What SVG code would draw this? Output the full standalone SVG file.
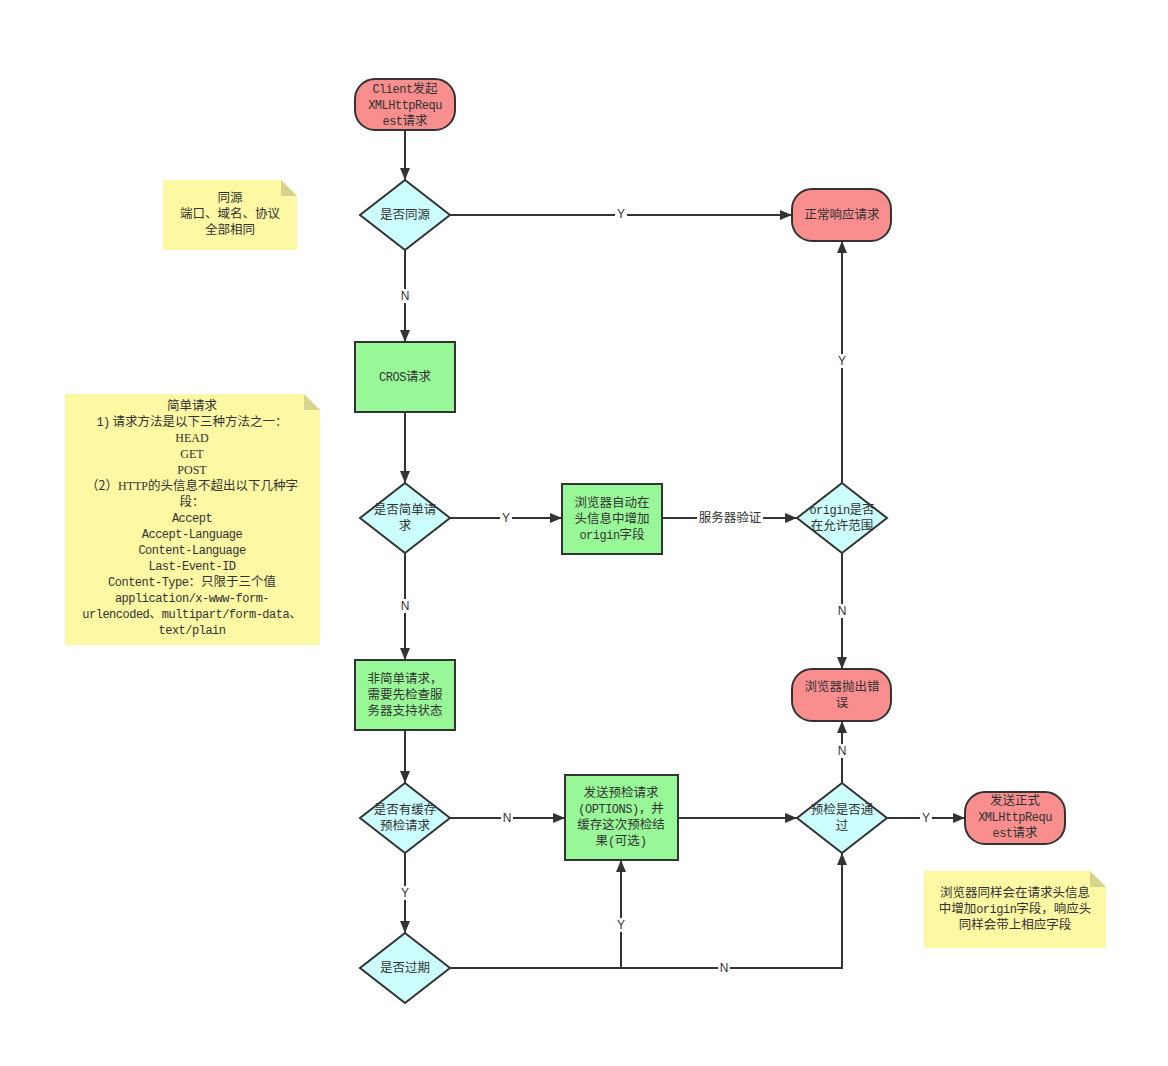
<svg xmlns="http://www.w3.org/2000/svg" width="1168" height="1066" viewBox="0 0 1168 1066">
<style>
.t{font-family:"Noto Sans CJK SC","Liberation Sans",sans-serif;font-size:12.5px;fill:#333;text-anchor:middle}
.m{font-family:"Liberation Mono","Noto Sans CJK SC",monospace;font-size:12px;letter-spacing:-0.5px}
.hs{font-family:"Liberation Serif",serif;font-size:12px}
.lbl{font-family:"Liberation Sans",sans-serif;font-size:12px;fill:#333;text-anchor:middle}
.term{fill:#f88e8e;stroke:#333;stroke-width:2}
.proc{fill:#98f898;stroke:#333;stroke-width:2}
.dec{fill:#ccfefe;stroke:#333;stroke-width:2}
.note{fill:#fcf8a3}
.fold{fill:#d6d38a}
.edge{fill:none;stroke:#333;stroke-width:2}
.bg{fill:#fff}
</style>
<defs>
<marker id="arr" viewBox="0 0 12 10" refX="12" refY="5" markerWidth="12" markerHeight="10" markerUnits="userSpaceOnUse" orient="auto">
<path d="M0,0 L12,5 L0,10 Z" fill="#333"/>
</marker>
</defs>
<rect width="1168" height="1066" fill="#fff"/>

<g id="connectors">
<path class="edge" d="M405,130 V180" marker-end="url(#arr)"/>
<path class="edge" d="M450,215 H792" marker-end="url(#arr)"/>
<path class="edge" d="M405,250 V342" marker-end="url(#arr)"/>
<path class="edge" d="M405,412 V483" marker-end="url(#arr)"/>
<path class="edge" d="M450,518 H562" marker-end="url(#arr)"/>
<path class="edge" d="M662,518 H797" marker-end="url(#arr)"/>
<path class="edge" d="M842,483 V241" marker-end="url(#arr)"/>
<path class="edge" d="M842,553 V669" marker-end="url(#arr)"/>
<path class="edge" d="M405,553 V660" marker-end="url(#arr)"/>
<path class="edge" d="M405,730 V783" marker-end="url(#arr)"/>
<path class="edge" d="M450,818 H565" marker-end="url(#arr)"/>
<path class="edge" d="M678,818 H797" marker-end="url(#arr)"/>
<path class="edge" d="M842,783 V721" marker-end="url(#arr)"/>
<path class="edge" d="M887,818 H965" marker-end="url(#arr)"/>
<path class="edge" d="M405,853 V933" marker-end="url(#arr)"/>
<path class="edge" d="M450,968 H621 V860" marker-end="url(#arr)"/>
<path class="edge" d="M450,968 H842 V853" marker-end="url(#arr)"/>
<rect class="bg" x="615" y="207" width="12" height="14"/><text class="lbl" x="621" y="218">Y</text>
<rect class="bg" x="399" y="289" width="12" height="14"/><text class="lbl" x="405" y="300">N</text>
<rect class="bg" x="500" y="511" width="12" height="14"/><text class="lbl" x="506" y="522">Y</text>
<rect class="bg" x="697" y="510" width="66" height="16"/><text class="t" x="730" y="522">服务器验证</text>
<rect class="bg" x="836" y="354" width="12" height="14"/><text class="lbl" x="842" y="365">Y</text>
<rect class="bg" x="836" y="604" width="12" height="14"/><text class="lbl" x="842" y="615">N</text>
<rect class="bg" x="399" y="599" width="12" height="14"/><text class="lbl" x="405" y="610">N</text>
<rect class="bg" x="501" y="811" width="12" height="14"/><text class="lbl" x="507" y="822">N</text>
<rect class="bg" x="836" y="744" width="12" height="14"/><text class="lbl" x="842" y="755">N</text>
<rect class="bg" x="920" y="811" width="12" height="14"/><text class="lbl" x="926" y="822">Y</text>
<rect class="bg" x="399" y="886" width="12" height="14"/><text class="lbl" x="405" y="897">Y</text>
<rect class="bg" x="615" y="918" width="12" height="14"/><text class="lbl" x="621" y="929">Y</text>
<rect class="bg" x="718" y="961" width="12" height="14"/><text class="lbl" x="724" y="972">N</text>
</g>

<g id="start">
<rect class="term" x="355" y="79" width="100" height="51" rx="20"/>
<text class="t" x="405" y="93"><tspan class="m">Client</tspan>发起</text>
<text class="t m" x="405" y="109">XMLHttpRequ</text>
<text class="t" x="405" y="125"><tspan class="m">est</tspan>请求</text>
</g>

<g id="same-origin">
<polygon class="dec" points="405,180 450,215 405,250 360,215"/>
<text class="t" x="405" y="219">是否同源</text>
</g>

<g id="normal-response">
<rect class="term" x="792" y="189" width="99" height="52" rx="20"/>
<text class="t" x="842" y="219">正常响应请求</text>
</g>

<g id="cros">
<rect class="proc" x="355" y="342" width="100" height="70"/>
<text class="t" x="405" y="381"><tspan class="m">CROS</tspan>请求</text>
</g>

<g id="simple">
<polygon class="dec" points="405,483 450,518 405,553 360,518"/>
<text class="t" x="405" y="514">是否简单请</text>
<text class="t" x="405" y="530">求</text>
</g>

<g id="add-origin">
<rect class="proc" x="562" y="484" width="100" height="70"/>
<text class="t" x="612" y="507">浏览器自动在</text>
<text class="t" x="612" y="523">头信息中增加</text>
<text class="t" x="612" y="539"><tspan class="m">origin</tspan>字段</text>
</g>

<g id="origin-allowed">
<polygon class="dec" points="842,483 887,518 842,553 797,518"/>
<text class="t" x="842" y="514"><tspan class="m">origin</tspan>是否</text>
<text class="t" x="842" y="530">在允许范围</text>
</g>

<g id="browser-error">
<rect class="term" x="792" y="669" width="99" height="52" rx="20"/>
<text class="t" x="842" y="691">浏览器抛出错</text>
<text class="t" x="842" y="707">误</text>
</g>

<g id="non-simple">
<rect class="proc" x="355" y="660" width="100" height="70"/>
<text class="t" x="405" y="683">非简单请求，</text>
<text class="t" x="405" y="699">需要先检查服</text>
<text class="t" x="405" y="715">务器支持状态</text>
</g>

<g id="cached">
<polygon class="dec" points="405,783 450,818 405,853 360,818"/>
<text class="t" x="405" y="814">是否有缓存</text>
<text class="t" x="405" y="830">预检请求</text>
</g>

<g id="preflight">
<rect class="proc" x="565" y="775" width="113" height="85"/>
<text class="t" x="621" y="797">发送预检请求</text>
<text class="t" x="621" y="813"><tspan class="m">(OPTIONS)</tspan>，并</text>
<text class="t" x="621" y="829">缓存这次预检结</text>
<text class="t" x="621" y="845">果<tspan class="m">(</tspan>可选<tspan class="m">)</tspan></text>
</g>

<g id="preflight-ok">
<polygon class="dec" points="842,783 887,818 842,853 797,818"/>
<text class="t" x="842" y="814">预检是否通</text>
<text class="t" x="842" y="830">过</text>
</g>

<g id="send-formal">
<rect class="term" x="965" y="792" width="100" height="52" rx="20"/>
<text class="t" x="1015" y="805">发送正式</text>
<text class="t m" x="1015" y="821">XMLHttpRequ</text>
<text class="t" x="1015" y="837"><tspan class="m">est</tspan>请求</text>
</g>

<g id="expired">
<polygon class="dec" points="405,933 450,968 405,1003 360,968"/>
<text class="t" x="405" y="972">是否过期</text>
</g>

<g id="note-same-origin">
<path class="note" d="M163,180 H281 L297,196 V250 H163 Z"/>
<path class="fold" d="M281,180 L297,196 H281 Z"/>
<text class="t" x="230" y="202">同源</text>
<text class="t" x="230" y="218">端口、域名、协议</text>
<text class="t" x="230" y="234">全部相同</text>
</g>

<g id="note-simple">
<path class="note" d="M65,394 H304 L320,410 V645 H65 Z"/>
<path class="fold" d="M304,394 L320,410 H304 Z"/>
<text class="t" x="192" y="410">简单请求</text>
<text class="t" x="192" y="426"><tspan class="m">1)</tspan> 请求方法是以下三种方法之一：</text>
<text class="t hs" x="192" y="442">HEAD</text>
<text class="t hs" x="192" y="458">GET</text>
<text class="t hs" x="192" y="474">POST</text>
<text class="t" x="192" y="490">（2）<tspan class="hs">HTTP</tspan>的头信息不超出以下几种字</text>
<text class="t" x="192" y="506">段：</text>
<text class="t m" x="192" y="522">Accept</text>
<text class="t m" x="192" y="538">Accept-Language</text>
<text class="t m" x="192" y="554">Content-Language</text>
<text class="t m" x="192" y="570">Last-Event-ID</text>
<text class="t" x="192" y="586"><tspan class="m">Content-Type</tspan>：只限于三个值</text>
<text class="t m" x="192" y="602">application/x-www-form-</text>
<text class="t" x="192" y="618"><tspan class="m">urlencoded</tspan>、<tspan class="m">multipart/form-data</tspan>、</text>
<text class="t m" x="192" y="634">text/plain</text>
</g>

<g id="note-origin">
<path class="note" d="M924,871 H1090 L1106,887 V948 H924 Z"/>
<path class="fold" d="M1090,871 L1106,887 H1090 Z"/>
<text class="t" x="1015" y="897">浏览器同样会在请求头信息</text>
<text class="t" x="1015" y="913">中增加<tspan class="m">origin</tspan>字段，响应头</text>
<text class="t" x="1015" y="929">同样会带上相应字段</text>
</g>
</svg>
